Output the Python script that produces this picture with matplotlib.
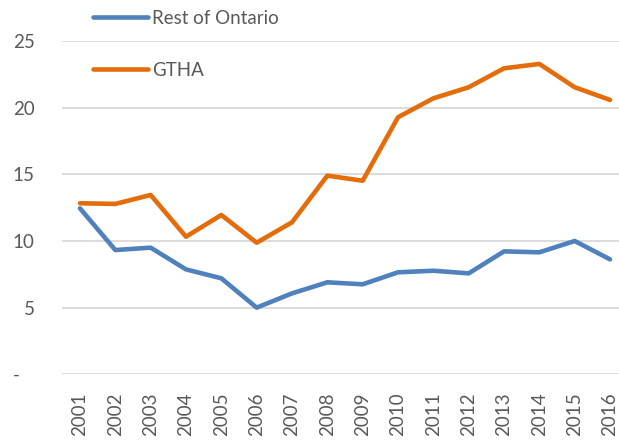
import matplotlib
matplotlib.use("Agg")
import matplotlib.pyplot as plt

years = ["2001", "2002", "2003", "2004", "2005", "2006", "2007", "2008",
         "2009", "2010", "2011", "2012", "2013", "2014", "2015", "2016"]
rest_of_ontario = [12.45, 9.32, 9.5, 7.87, 7.2, 5.0, 6.07, 6.9,
                   6.75, 7.65, 7.77, 7.57, 9.22, 9.15, 10.0, 8.62]
gtha = [12.83, 12.78, 13.45, 10.32, 11.95, 9.87, 11.4, 14.9,
        14.52, 19.28, 20.7, 21.53, 22.95, 23.28, 21.53, 20.58]
y_ticks = [0, 5, 10, 15, 20, 25]
y_tick_labels = ["-   ", "5", "10", "15", "20", "25"]

plt.rcParams['font.family'] = ['Lato', 'DejaVu Sans']
text_color = "#595959"

fig = plt.figure(figsize=(6.19, 4.40), dpi=100)
ax = fig.add_axes([62.3 / 619, (440 - 374.3) / 440, (627.7 - 62.3) / 619, (374.3 - 41) / 440])

x = list(range(len(years)))
ax.plot(x, rest_of_ontario, color="#4F81BD", lw=3.3, solid_capstyle="round",
        solid_joinstyle="round", label="Rest of Ontario", zorder=3)
ax.plot(x, gtha, color="#E46C0A", lw=3.3, solid_capstyle="round",
        solid_joinstyle="round", label="GTHA", zorder=3)

ax.set_xlim(-0.5, len(years) - 0.5)
ax.set_ylim(0, 25)
ax.set_yticks(y_ticks)
ax.set_yticklabels(y_tick_labels)
ax.set_xticks(x)
ax.set_xticklabels(years, rotation=90)
ax.yaxis.grid(True, color="#D9D9D9", lw=1.3)
ax.set_axisbelow(True)
for s in ax.spines.values():
    s.set_visible(False)
ax.tick_params(axis="both", length=0, labelsize=13.5, colors=text_color)
ax.tick_params(axis="y", pad=20)
ax.tick_params(axis="x", pad=13)

leg = fig.legend(loc="upper left", bbox_to_anchor=(93 / 619, 1 - 10 / 440),
                 frameon=False, fontsize=13.5, handlelength=2.95, handletextpad=0.2,
                 labelspacing=1.85, borderpad=0, borderaxespad=0)
for t in leg.get_texts():
    t.set_color(text_color)

fig.savefig("out.png", dpi=100)
